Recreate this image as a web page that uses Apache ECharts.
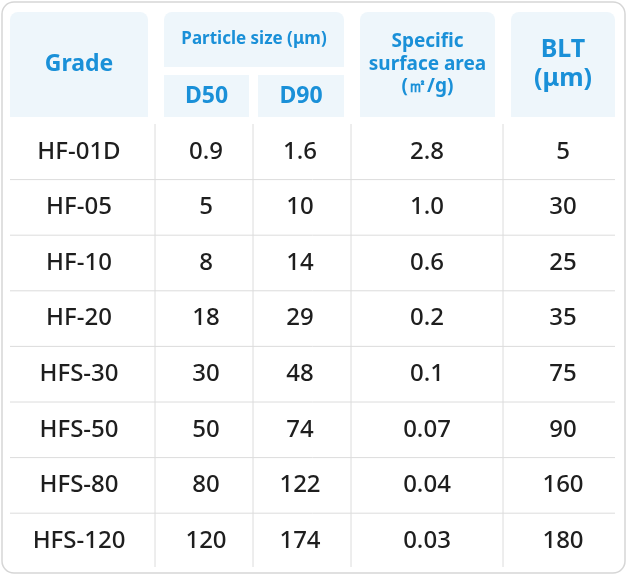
<!DOCTYPE html><html><head><meta charset="utf-8"><script src="https://cdn.jsdelivr.net/npm/echarts@6/dist/echarts.min.js"></script>
<style>html,body{margin:0;padding:0;background:#fff}#c{width:628px;height:576px}</style></head><body><div id="c"></div><script>
const grades=["HF-01D","HF-05","HF-10","HF-20","HFS-30","HFS-50","HFS-80","HFS-120"];
const d50=["0.9","5","8","18","30","50","80","120"];
const d90=["1.6","10","14","29","48","74","122","174"];
const ssa=["2.8","1.0","0.6","0.2","0.1","0.07","0.04","0.03"];
const blt=["5","30","25","35","75","90","160","180"];
const headers={grade:"Grade",ps:"Particle size (μm)",d50:"D50",d90:"D90",ssa:"Specific\nsurface area\n(㎡/g)",blt:"BLT\n(μm)"};
(function(){
const chart=echarts.init(document.getElementById('c'));
const F='"Noto Sans", sans-serif', BLUE='#1a90d8', HB='#eef6fb', LINE='#dcdcdc';
const g=[];
g.push({type:'rect',shape:{x:2,y:2,width:623,height:571,r:12},style:{fill:'#fff',stroke:'#d6d6d6',lineWidth:1.5}});
function hcell(x,y,w,h,t,fs,r){g.push({type:'rect',shape:{x,y,width:w,height:h,r:r||[8,8,0,0]},style:{fill:HB}});
 g.push({type:'text',x:x+w/2,y:y+h/2,style:{text:t,font:'bold '+fs+'px '+F,fill:BLUE,align:'center',verticalAlign:'middle',lineHeight:fs*1.18}});}
hcell(10,12,138,105,headers.grade,23);
hcell(164,12,180,55,headers.ps,17);
hcell(164,75,85,42,headers.d50,23,[0,0,0,0]);
hcell(258,75,86,42,headers.d90,23,[0,0,0,0]);
hcell(360,12,135,105,headers.ssa,19);
hcell(511,12,104,105,headers.blt,25);
const cols=[79,206,300,427,563], vx=[155,253,351,503];
const y0=124,rh=55.6;
vx.forEach(x=>g.push({type:'line',shape:{x1:x,y1:y0,x2:x,y2:567},style:{stroke:LINE,lineWidth:1}}));
const data=[grades,d50,d90,ssa,blt];
grades.forEach((_,i)=>{const cy=y0+rh*i+rh/2;
 if(i<grades.length-1)g.push({type:'line',shape:{x1:10,y1:y0+rh*(i+1),x2:615,y2:y0+rh*(i+1)},style:{stroke:LINE,lineWidth:1}});
 data.forEach((arr,j)=>g.push({type:'text',x:cols[j],y:cy,style:{text:arr[i],font:'500 24px '+F,fill:'#1e1e1e',align:'center',verticalAlign:'middle'}}));});
chart.setOption({animation:false,graphic:g});
})();
</script></body></html>
